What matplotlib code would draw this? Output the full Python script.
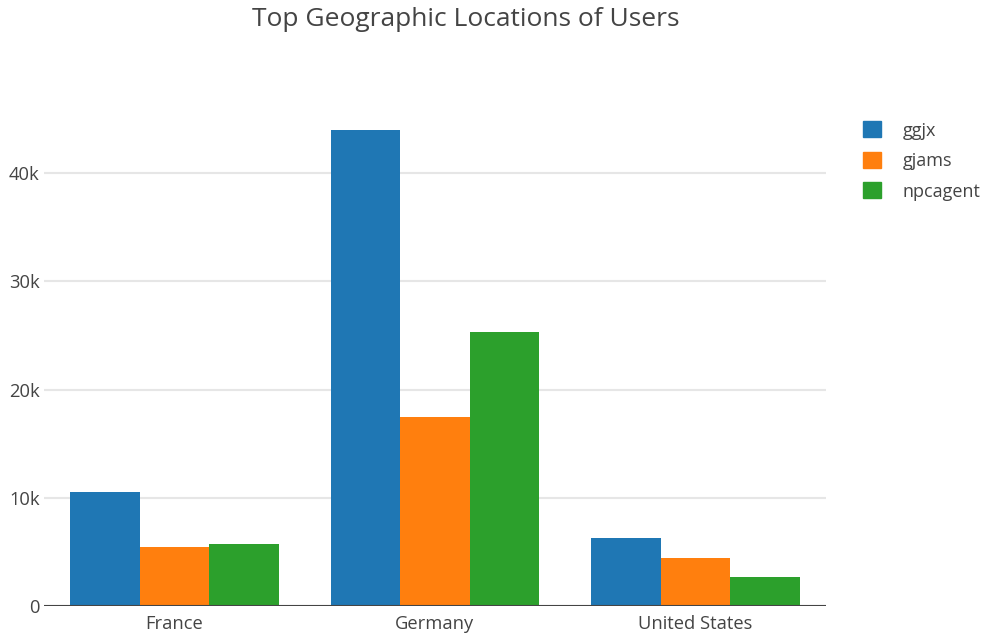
import numpy as np
import matplotlib
matplotlib.use("Agg")
import matplotlib.pyplot as plt
from matplotlib.patches import Patch
from matplotlib.ticker import FuncFormatter

plt.rcParams['font.family'] = ['Open Sans', 'DejaVu Sans']

# data
countries = ["France", "Germany", "United States"]
series = ["ggjx", "gjams", "npcagent"]
ggjx = [10550, 43950, 6300]
gjams = [5450, 17450, 4440]
npcagent = [5730, 25300, 2690]
colors = ["#1f77b4", "#ff7f0e", "#2ca02c"]

W, H = 990, 635
fig = plt.figure(figsize=(W / 100, H / 100), dpi=100)
ax = fig.add_axes([44 / W, (H - 606.3) / H, 782 / W, 506 / H])

x = np.arange(len(countries))
bw = 0.8 / 3
for i, (vals, c) in enumerate(zip([ggjx, gjams, npcagent], colors)):
    ax.bar(x + (i - 1) * bw, vals, width=bw, color=c, zorder=2)

ax.set_xlim(-0.5, 2.5)
ax.set_ylim(0, 46700)
ax.set_yticks([0, 10000, 20000, 30000, 40000])
ax.yaxis.set_major_formatter(FuncFormatter(lambda v, p: "0" if v == 0 else "%dk" % (v / 1000)))
ax.set_xticks(x)
ax.set_xticklabels(countries)
ax.tick_params(axis='both', length=0, labelsize=13.2, colors="#444444")
ax.tick_params(axis='x', pad=6)
ax.tick_params(axis='y', pad=3)
ax.grid(axis='y', color="#e6e6e6", linewidth=1.5, zorder=0)
ax.axhline(0, color="#444444", linewidth=1.5, zorder=3)
for s in ax.spines.values():
    s.set_visible(False)

fig.text(466 / W, 1 - 19 / H, "Top Geographic Locations of Users", ha='center', va='center',
         fontsize=19, color="#444444")

handles = [Patch(color=c) for c in colors]
fig.legend(handles, series, loc='upper left', bbox_to_anchor=(847 / W, 1 - 105 / H),
           frameon=False, fontsize=13, labelcolor="#444444", handlelength=1.0,
           handleheight=1.0, handletextpad=1.2, labelspacing=0.68)

fig.savefig("out.png", dpi=100)
